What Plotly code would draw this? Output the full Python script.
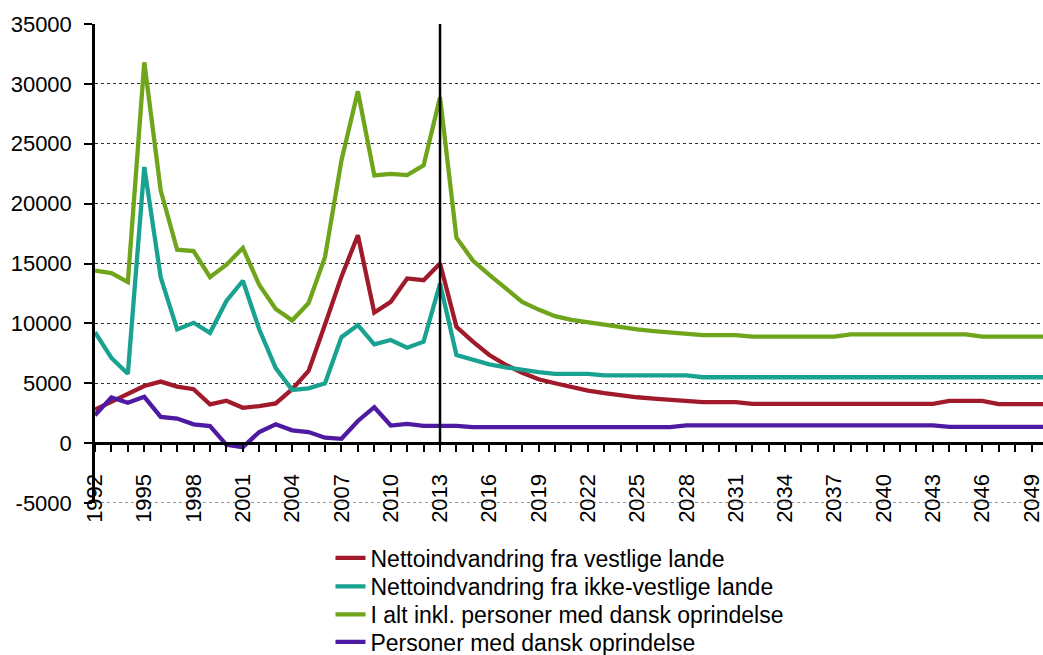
import plotly.graph_objects as go

# Years 1992-2050
years = list(range(1992, 2051))

vestlige = [
    2800, 3450, 4100, 4770, 5140, 4720, 4500, 3230, 3540, 2950,
    3090, 3320, 4500, 6030, 9900, 13900, 17360, 10900, 11800, 13750,
    13610, 15000, 9720, 8470, 7360, 6530, 5880, 5330, 5000, 4670,
    4390, 4170, 3980, 3830, 3720, 3620, 3600, 3420, 3420, 3420,
    3270, 3270, 3270, 3270, 3270, 3270, 3270, 3270, 3270, 3270,
    3270, 3270, 3520, 3520, 3520, 3250, 3250, 3250, 3250,
]

ikke_vestlige = [
    9260, 7110, 5790, 23060, 13840, 9490, 10050, 9210, 11870, 13560,
    9490, 6260, 4440, 4580, 5000, 8850, 9860, 8250, 8610, 7970,
    8470, 13330, 7360, 6940, 6580, 6330, 6110, 5920, 5780, 5780,
    5780, 5650, 5650, 5650, 5650, 5650, 5650, 5500, 5500, 5500,
    5500, 5500, 5500, 5500, 5500, 5500, 5500, 5500, 5500, 5500,
    5500, 5500, 5500, 5500, 5500, 5500, 5500, 5500, 5500,
]

i_alt = [
    14400, 14200, 13450, 31800, 21100, 16150, 16030, 13860, 14900, 16300,
    13200, 11200, 10250, 11700, 15550, 23600, 29380, 22360, 22490, 22380,
    23190, 28890, 17150, 15250, 14050, 12970, 11800, 11150, 10600, 10300,
    10100, 9880, 9650, 9490, 9350, 9230, 9100, 9020, 9020, 9020,
    8900, 8900, 8900, 8900, 8900, 8900, 9080, 9080, 9080, 9080,
    9080, 9080, 9080, 9080, 8900, 8900, 8900, 8900, 8900,
]

dansk = [
    2330, 3820, 3370, 3870, 2190, 2050, 1570, 1430, -140, -340,
    930, 1570, 1070, 930, 450, 360, 1850, 3000, 1470, 1610,
    1440, 1440, 1440, 1330, 1330, 1330, 1330, 1330, 1330, 1330,
    1330, 1330, 1330, 1330, 1330, 1330, 1480, 1480, 1480, 1480,
    1480, 1480, 1480, 1480, 1480, 1480, 1480, 1480, 1480, 1480,
    1480, 1480, 1350, 1350, 1350, 1350, 1350, 1350, 1350,
]

y_ticks = [-5000, 0, 5000, 10000, 15000, 20000, 25000, 30000, 35000]
y_tick_labels = ["-5000", "0", "5000", "10000", "15000", "20000", "25000", "30000", "35000"]

series = [
    ("Nettoindvandring fra vestlige lande", vestlige, "#A01A2C"),
    ("Nettoindvandring fra ikke-vestlige lande", ikke_vestlige, "#1AA291"),
    ("I alt inkl. personer med dansk oprindelse", i_alt, "#6EA51B"),
    ("Personer med dansk oprindelse", dansk, "#4F1AA2"),
]

font_family = "Liberation Sans, Arial, sans-serif"

# Plot area in pixels (top 24, bottom 503) for placing the legend rows
plot_top, plot_bottom = 24, 503
legend_rows_px = [558, 586.5, 614.5, 642]

fig = go.Figure()
legend_layout = {}
for i, (name, vals, color) in enumerate(series):
    lg = "legend" if i == 0 else f"legend{i + 1}"
    fig.add_trace(go.Scatter(
        x=years, y=vals, name=name, mode="lines",
        line=dict(color=color, width=4.3),
        legend=lg,
    ))
    legend_layout[lg] = dict(
        x=0.2484, xanchor="left",
        y=(plot_bottom - legend_rows_px[i]) / (plot_bottom - plot_top),
        yanchor="middle",
        font=dict(size=23, family=font_family, color="black"),
        bgcolor="rgba(0,0,0,0)", borderwidth=0,
    )

# Vertical marker at the last observed year
fig.add_shape(
    type="line", xref="x", yref="y", x0=2013, x1=2013, y0=0, y1=35000,
    line=dict(color="black", width=2.5), layer="above",
)
# Dotted gridline along the lower edge of the value range
fig.add_shape(
    type="line", xref="paper", yref="y", x0=0, x1=1, y0=-5000, y1=-5000,
    line=dict(color="#333333", width=1, dash="dot"), layer="below",
)

fig.update_layout(
    width=1043, height=655,
    margin=dict(l=95, r=0, t=plot_top, b=655 - plot_bottom, autoexpand=False),
    paper_bgcolor="white", plot_bgcolor="white",
    font=dict(family=font_family, size=22, color="black"),
    showlegend=True,
    xaxis=dict(
        range=[1992, 2049.7], tick0=1992, dtick=3,
        showgrid=False, zeroline=False,
        anchor="free", position=0.125,
        showline=True, linecolor="black", linewidth=3,
        ticks="outside", ticklen=7, tickwidth=2, tickcolor="black",
        minor=dict(dtick=1, ticks="outside", ticklen=7, tickwidth=2, tickcolor="black"),
        tickangle=-90, tickfont=dict(size=22),
        ticklabeloverflow="allow", ticklabelstandoff=13,
    ),
    yaxis=dict(
        range=[-5000, 35000], tickvals=y_ticks, ticktext=y_tick_labels,
        showgrid=True, gridcolor="#333333", griddash="dot", gridwidth=1,
        zeroline=False,
        showline=True, linecolor="black", linewidth=2.5,
        ticks="outside", ticklen=8, tickwidth=2, tickcolor="black",
        tickfont=dict(size=22), ticklabelstandoff=8,
    ),
    **legend_layout,
)

fig.write_html("out.html")
